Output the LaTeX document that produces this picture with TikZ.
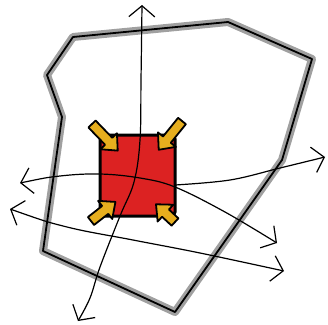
\documentclass[tikz,border=0pt]{standalone}
\usetikzlibrary{arrows.meta}
\definecolor{sqred}{HTML}{DC2222}
\definecolor{arryel}{HTML}{E6AE1E}
\definecolor{wallgray}{HTML}{A0A0A0}
\tikzset{
  wallshadow/.style={draw=wallgray, line width=8pt, line join=round},
  wallline/.style={draw=black, line width=1.8pt, line join=round},
  barb/.tip={Straight Barb[length=11pt,width=26pt,line width=1.2pt]},
  flowline/.style={draw=black, line width=1.2pt, line cap=round, barb-barb},
  core/.style={fill=sqred, draw=black, line width=3pt, rounded corners=4pt},
  pics/blockarrow/.style={code={
    \draw[fill=arryel, draw=black, line width=1.8pt, line join=round]
      (0,-5) -- (#1-13,-5) -- (#1-13,-11.5) -- (#1,0) -- (#1-13,11.5) -- (#1-13,5) -- (0,5) -- cycle;
  }}
}
\begin{document}
\begin{tikzpicture}[x=1pt,y=-1pt]
\useasboundingbox (0,0) rectangle (328,324);
% outer boundary
\coordinate (p1) at (73,37);
\coordinate (p2) at (228,22);
\coordinate (p3) at (312,59);
\coordinate (p4) at (282,160);
\coordinate (p5) at (175,312);
\coordinate (p6) at (43,251);
\coordinate (p7) at (62,117);
\coordinate (p8) at (47,75);
\draw[wallshadow, shift={(-2.2,1.6)}] (p1) -- (p2) -- (p3) -- (p4) -- (p5) -- (p6) -- (p7) -- (p8) -- cycle;
\draw[wallline] (p1) -- (p2) -- (p3) -- (p4) -- (p5) -- (p6) -- (p7) -- (p8) -- cycle;
% core square
\coordinate (s1) at (100,135);
\coordinate (s2) at (175,216);
\draw[core] (s1) rectangle (s2);
% yellow inward arrows
\pic[rotate=-46] at (92,124) {blockarrow=37};
\pic[rotate=-129] at (182,121) {blockarrow=37};
\pic[rotate=38] at (91,221) {blockarrow=31};
\pic[rotate=137] at (175,222) {blockarrow=26};
% flow lines
\draw[flowline] plot[smooth, tension=0.6] coordinates {(142,5) (141,80) (140,140) (134,182) (120,216) (100,267) (90,298) (78,321)};
\draw[flowline] plot[smooth, tension=0.6] coordinates {(20,183) (60,176) (100,174) (140,178) (175,187) (225,212) (277,243)};
\draw[flowline, {}-barb] plot[smooth, tension=0.6] coordinates {(175,185) (230,180) (280,168) (325,157)};
\draw[flowline] plot[smooth, tension=0.6] coordinates {(10,209) (67,227) (133,240) (200,253) (284,271)};
\end{tikzpicture}
\end{document}
